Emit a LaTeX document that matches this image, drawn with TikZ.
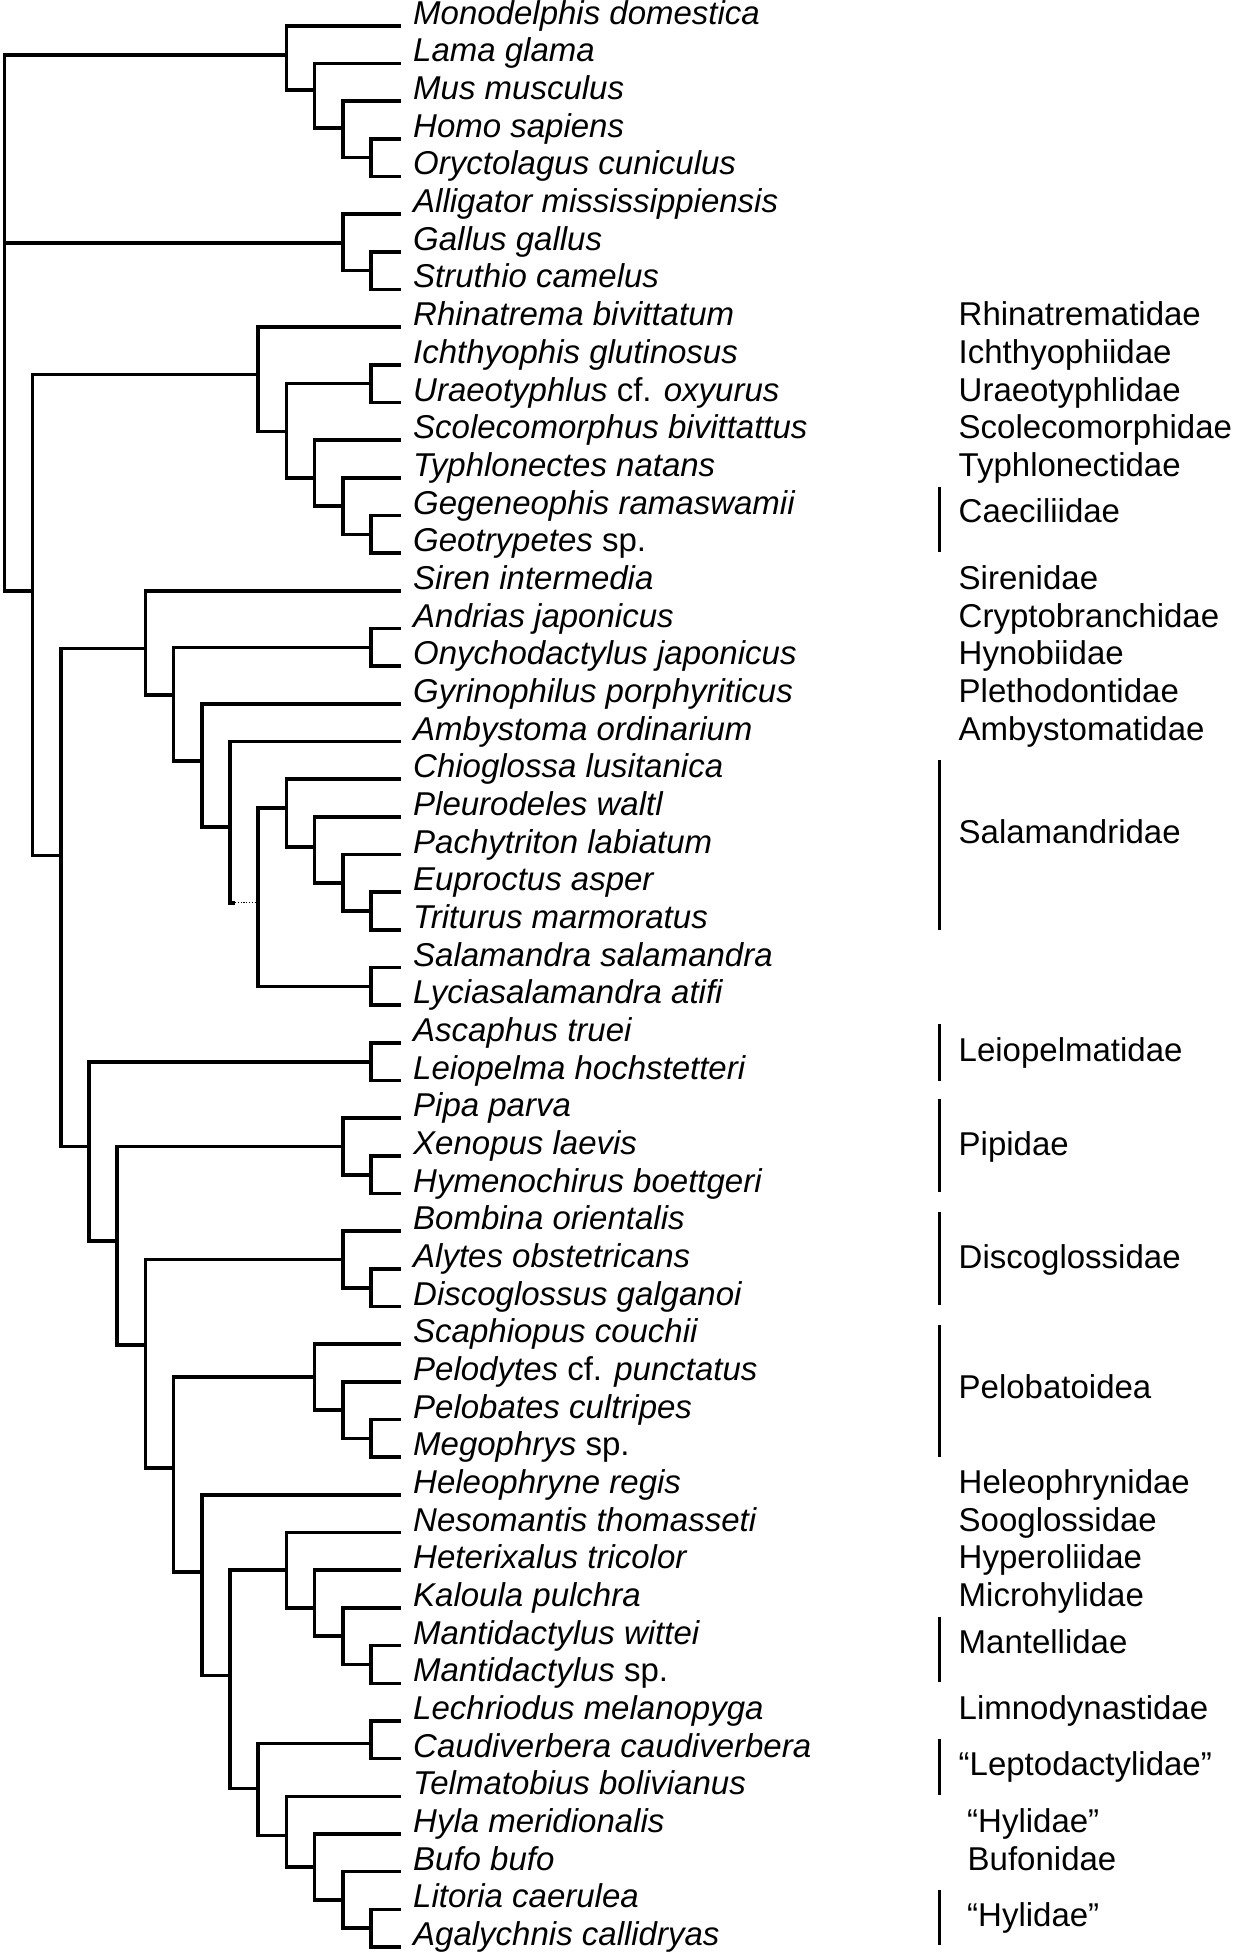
\documentclass[tikz,border=0pt]{standalone}
\usepackage{fontspec}
\setmainfont{Liberation Sans}
\newcommand\ry[1]{25.8+37.67*(#1)}
\newcommand\kx[1]{4.3+28.2*(#1)}
\begin{document}
\begin{tikzpicture}[x=1pt,y=-1pt,
  br/.style={line width=3.6pt,line join=miter},
  thinlink/.style={line width=1.2pt,dash pattern=on 1.2pt off 1.6pt},
  taxon/.style={anchor=base west,inner sep=0pt,font=\fontsize{33}{40}\selectfont\itshape},
  fam/.style={anchor=base west,inner sep=0pt,font=\fontsize{33}{40}\selectfont},
  famrule/.style={line width=3.6pt}]
\useasboundingbox (0,0) rectangle (1237,1956);

% ---------- leaves ----------
\foreach \i/\t in {
 0/{Monodelphis domestica},
 1/{Lama glama},
 2/{Mus musculus},
 3/{Homo sapiens},
 4/{Oryctolagus cuniculus},
 5/{Alligator mississippiensis},
 6/{Gallus gallus},
 7/{Struthio camelus},
 8/{Rhinatrema bivittatum},
 9/{Ichthyophis glutinosus},
 10/{Uraeotyphlus \textup{cf.} oxyurus},
 11/{Scolecomorphus bivittattus},
 12/{Typhlonectes natans},
 13/{Gegeneophis ramaswamii},
 14/{Geotrypetes \textup{sp.}},
 15/{Siren intermedia},
 16/{Andrias japonicus},
 17/{Onychodactylus japonicus},
 18/{Gyrinophilus porphyriticus},
 19/{Ambystoma ordinarium},
 20/{Chioglossa lusitanica},
 21/{Pleurodeles waltl},
 22/{Pachytriton labiatum},
 23/{Euproctus asper},
 24/{Triturus marmoratus},
 25/{Salamandra salamandra},
 26/{Lyciasalamandra atifi},
 27/{Ascaphus truei},
 28/{Leiopelma hochstetteri},
 29/{Pipa parva},
 30/{Xenopus laevis},
 31/{Hymenochirus boettgeri},
 32/{Bombina orientalis},
 33/{Alytes obstetricans},
 34/{Discoglossus galganoi},
 35/{Scaphiopus couchii},
 36/{Pelodytes \textup{cf.} punctatus},
 37/{Pelobates cultripes},
 38/{Megophrys \textup{sp.}},
 39/{Heleophryne regis},
 40/{Nesomantis thomasseti},
 41/{Heterixalus tricolor},
 42/{Kaloula pulchra},
 43/{Mantidactylus wittei},
 44/{Mantidactylus \textup{sp.}},
 45/{Lechriodus melanopyga},
 46/{Caudiverbera caudiverbera},
 47/{Telmatobius bolivianus},
 48/{Hyla meridionalis},
 49/{Bufo bufo},
 50/{Litoria caerulea},
 51/{Agalychnis callidryas}}{
  \coordinate (t\i) at (401,{\ry{\i}});
  \node[taxon] (n\i) at (413,{\ry{\i}-1.5}) {\t};
}

% ---------- internal nodes ----------
\coordinate (root)  at ({\kx{0}},{\ry{8}});
% mammals
\coordinate (mMam)  at ({\kx{10}},{\ry{0.77}});
\coordinate (mLM)   at ({\kx{11}},{\ry{1.71}});
\coordinate (mMHO)  at ({\kx{12}},{\ry{2.72}});
\coordinate (mHO)   at ({\kx{13}},{\ry{3.5}});
% birds
\coordinate (bB)    at ({\kx{12}},{\ry{5.76}});
\coordinate (bGS)   at ({\kx{13}},{\ry{6.5}});
% amphibians
\coordinate (amph)  at ({\kx{1}},{\ry{15}});
% caecilians
\coordinate (cRoot) at ({\kx{9}},{\ry{9.26}});
\coordinate (c10)   at ({\kx{10}},{\ry{10.77}});
\coordinate (cIU)   at ({\kx{13}},{\ry{9.5}});
\coordinate (c11)   at ({\kx{11}},{\ry{12.0}});
\coordinate (c12)   at ({\kx{12}},{\ry{12.75}});
\coordinate (cGG)   at ({\kx{13}},{\ry{13.5}});
% batrachia
\coordinate (batr)  at ({\kx{2}},{\ry{22.02}});
% salamanders
\coordinate (s5)    at ({\kx{5}},{\ry{16.53}});
\coordinate (s6)    at ({\kx{6}},{\ry{17.77}});
\coordinate (sAO)   at ({\kx{13}},{\ry{16.5}});
\coordinate (s7)    at ({\kx{7}},{\ry{19.52}});
\coordinate (s8)    at ({\kx{8}},{\ry{21.27}});
\coordinate (s9)    at ({\kx{9}},{\ry{23.28}});
\coordinate (s9stub) at (235,{\ry{23.28}});
\coordinate (s10)   at ({\kx{10}},{\ry{20.76}});
\coordinate (s11)   at ({\kx{11}},{\ry{21.8}});
\coordinate (s12)   at ({\kx{12}},{\ry{22.75}});
\coordinate (sET)   at ({\kx{13}},{\ry{23.5}});
\coordinate (sSL)   at ({\kx{13}},{\ry{25.5}});
% frogs
\coordinate (fr3)   at ({\kx{3}},{\ry{29.75}});
\coordinate (frAL)  at ({\kx{13}},{\ry{27.5}});
\coordinate (fr4)   at ({\kx{4}},{\ry{32.26}});
\coordinate (frPip) at ({\kx{12}},{\ry{29.75}});
\coordinate (frXH)  at ({\kx{13}},{\ry{30.5}});
\coordinate (fr5)   at ({\kx{5}},{\ry{35.02}});
\coordinate (frDis) at ({\kx{12}},{\ry{32.75}});
\coordinate (frAD)  at ({\kx{13}},{\ry{33.5}});
\coordinate (fr6)   at ({\kx{6}},{\ry{38.28}});
\coordinate (frPel) at ({\kx{11}},{\ry{35.875}});
\coordinate (frPe2) at ({\kx{12}},{\ry{36.75}});
\coordinate (frPM)  at ({\kx{13}},{\ry{37.5}});
\coordinate (fr7)   at ({\kx{7}},{\ry{41.05}});
\coordinate (fr8)   at ({\kx{8}},{\ry{43.79}});
\coordinate (frR)   at ({\kx{10}},{\ry{41.0}});
\coordinate (frR11) at ({\kx{11}},{\ry{42.0}});
\coordinate (frR12) at ({\kx{12}},{\ry{42.75}});
\coordinate (frMM)  at ({\kx{13}},{\ry{43.5}});
\coordinate (fr9)   at ({\kx{9}},{\ry{46.79}});
\coordinate (frLC)  at ({\kx{13}},{\ry{45.6}});
\coordinate (frT)   at ({\kx{10}},{\ry{48.04}});
\coordinate (frH)   at ({\kx{11}},{\ry{48.87}});
\coordinate (frB)   at ({\kx{12}},{\ry{49.75}});
\coordinate (frLA)  at ({\kx{13}},{\ry{50.5}});

% ---------- branches ----------
\foreach \p/\c in {
 root/mMam, root/bB, root/amph,
 mMam/t0, mMam/mLM, mLM/t1, mLM/mMHO, mMHO/t2, mMHO/mHO, mHO/t3, mHO/t4,
 bB/t5, bB/bGS, bGS/t6, bGS/t7,
 amph/cRoot, amph/batr,
 cRoot/t8, cRoot/c10, c10/cIU, c10/c11, cIU/t9, cIU/t10,
 c11/t11, c11/c12, c12/t12, c12/cGG, cGG/t13, cGG/t14,
 batr/s5, batr/fr3,
 s5/t15, s5/s6, s6/sAO, s6/s7, sAO/t16, sAO/t17,
 s7/t18, s7/s8, s8/t19, s8/s9stub,
 s9/s10, s9/sSL, s10/t20, s10/s11, s11/t21, s11/s12,
 s12/t22, s12/sET, sET/t23, sET/t24, sSL/t25, sSL/t26,
 fr3/frAL, fr3/fr4, frAL/t27, frAL/t28,
 fr4/frPip, fr4/fr5, frPip/t29, frPip/frXH, frXH/t30, frXH/t31,
 fr5/frDis, fr5/fr6, frDis/t32, frDis/frAD, frAD/t33, frAD/t34,
 fr6/frPel, fr6/fr7, frPel/t35, frPel/frPe2, frPe2/t36, frPe2/frPM, frPM/t37, frPM/t38,
 fr7/t39, fr7/fr8,
 fr8/frR, fr8/fr9,
 frR/t40, frR/frR11, frR11/t41, frR11/frR12, frR12/t42, frR12/frMM, frMM/t43, frMM/t44,
 fr9/frLC, fr9/frT, frLC/t45, frLC/t46,
 frT/t47, frT/frH, frH/t48, frH/frB, frB/t49, frB/frLA, frLA/t50, frLA/t51}{
  \draw[br] (\p) |- (\c);
}
\draw[thinlink] (s9stub) -- (s9);

% ---------- family labels (single rows) ----------
\foreach \i/\t in {
 8/Rhinatrematidae, 9/Ichthyophiidae, 10/Uraeotyphlidae, 11/Scolecomorphidae,
 12/Typhlonectidae, 15/Sirenidae, 16/Cryptobranchidae, 17/Hynobiidae,
 18/Plethodontidae, 19/Ambystomatidae, 39/Heleophrynidae, 40/Sooglossidae,
 41/Hyperoliidae, 42/Microhylidae, 45/Limnodynastidae}{
  \node[fam] (fl\i) at (958.5,{\ry{\i}-1.5}) {\t};
}
\node[fam] (fl48) at (967,{\ry{48}-1.5}) {“Hylidae”};
\node[fam] (fl49) at (967.5,{\ry{49}-1.5}) {Bufonidae};

% ---------- bracketed families ----------
\foreach \k/\top/\bot/\base/\lx/\t in {
 cae/486.7/552.3/522.3/958.5/Caeciliidae,
 sal/760/930/843.3/958.5/Salamandridae,
 lei/1024/1080.7/1061.7/958.5/Leiopelmatidae,
 pip/1099/1192.3/1155/958.5/Pipidae,
 dis/1211.7/1305/1268.3/958.5/Discoglossidae,
 pel/1325/1456.7/1398.3/958.5/Pelobatoidea,
 man/1616.7/1682.3/1653.3/958.5/Mantellidae,
 lep/1739/1795/1775/958.5/{“Leptodactylidae”},
 hyl/1890/1945/1926.7/967/{“Hylidae”}}{
  \coordinate (\k top) at (939.3,\top);
  \coordinate (\k bot) at (939.3,\bot);
  \draw[famrule] (\k top) -- (\k bot);
  \node[fam] (\k lab) at (\lx,\base) {\t};
}
\end{tikzpicture}
\end{document}
